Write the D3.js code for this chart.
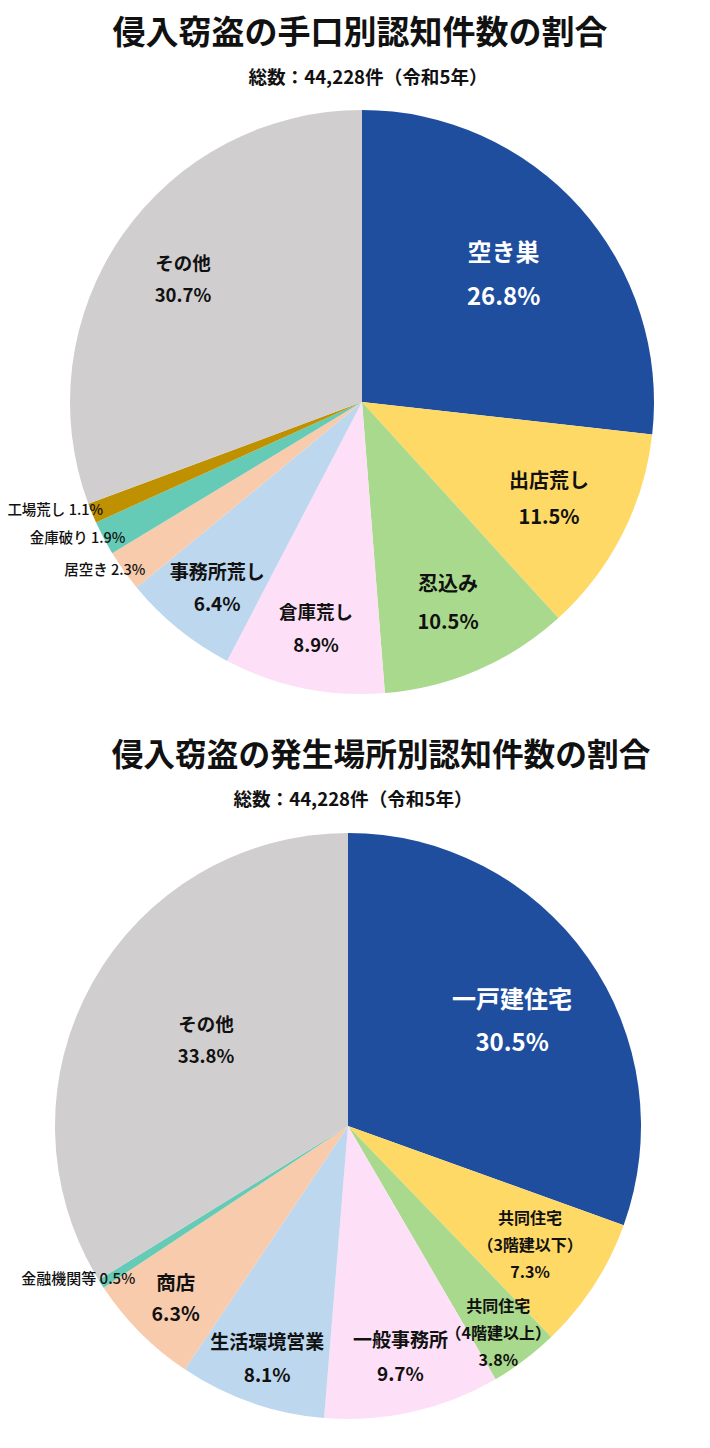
<!DOCTYPE html>
<html>
<head>
<meta charset="utf-8">
<script src="https://cdn.jsdelivr.net/npm/d3@7"></script>
<style>
  body { margin: 0; background: #fff; }
  text { font-family: "Noto Sans CJK JP", "Noto Sans", sans-serif; }
</style>
</head>
<body>
<svg width="710" height="1448"></svg>
<script>
// Chart 1: by method
const methodNames = ["空き巣", "出店荒し", "忍込み", "倉庫荒し", "事務所荒し", "居空き", "金庫破り", "工場荒し", "その他"];
const methodValues = [26.8, 11.5, 10.5, 8.9, 6.4, 2.3, 1.9, 1.1, 30.7];

// Chart 2: by place
const placeNames = [["一戸建住宅"], ["共同住宅", "（3階建以下）"], ["共同住宅", "（4階建以上）"], ["一般事務所"], ["生活環境営業"], ["商店"], ["金融機関等"], ["その他"]];
const placeValues = [30.5, 7.3, 3.8, 9.7, 8.1, 6.3, 0.5, 33.8];

const titles = ["侵入窃盗の手口別認知件数の割合", "侵入窃盗の発生場所別認知件数の割合"];
const subtitle = "総数：44,228件（令和5年）";

const svg = d3.select("svg");

const colors1 = ["#1f4e9f", "#ffd966", "#a9d98c", "#fde0f7", "#bdd7ee", "#f8cbad", "#66cbb6", "#bf9000", "#d0cece"];
const colors2 = ["#1f4e9f", "#ffd966", "#a9d98c", "#fde0f7", "#bdd7ee", "#f8cbad", "#66cbb6", "#d0cece"];

// label layout: radius for centroid, nudge, font size, line gap, side labels anchored at end
const layout1 = [
  {r: 190, dy: -3, fs: 24, gap: 44, fill: "#fff"},
  {r: 210, fs: 20, gap: 36},
  {r: 217, fs: 20, gap: 38},
  {r: 230, fs: 18.5, gap: 33},
  {r: 238, dx: 5, fs: 19, gap: 32},
  {r: 274, dx: 7, dy: 8, fs: 14.5, side: true},
  {r: 273, dx: 5, dy: 7, fs: 14.5, side: true},
  {r: 280, fs: 14.5, side: true},
  {r: 218, fs: 18.5, gap: 32}
];
const layout2 = [
  {r: 192, dx: 7, dy: 3, fs: 24, gap: 43, fill: "#fff"},
  {r: 217, fs: 16, gap: 27},
  {r: 256, dx: -4, dy: 2, fs: 16, gap: 27},
  {r: 237, dy: -2, fs: 19, gap: 34},
  {r: 245, fs: 19, gap: 33},
  {r: 243, fs: 19.5, gap: 31},
  {r: 262, dx: 8, dy: 10, fs: 15, side: true},
  {r: 166, dx: 3, dy: -6, fs: 18.5, gap: 32}
];

function drawPie(cx, cy, R, names, values, colors, layout, titleX, subX, titleY, titleSize, title) {
  svg.append("text")
    .attr("x", titleX).attr("y", titleY)
    .attr("text-anchor", "middle").attr("dominant-baseline", "central")
    .style("font-size", titleSize + "px").style("font-weight", "bold").attr("fill", "#111")
    .text(title);
  svg.append("text")
    .attr("x", subX).attr("y", titleY + 45)
    .attr("text-anchor", "middle").attr("dominant-baseline", "central")
    .style("font-size", "18.6px").style("font-weight", "bold").attr("fill", "#111")
    .text(subtitle);

  const pie = d3.pie().sort(null).value(d => d);
  const arcs = pie(values);
  const arc = d3.arc().innerRadius(0).outerRadius(R);
  const g = svg.append("g").attr("transform", `translate(${cx},${cy})`);

  g.selectAll("path")
    .data(arcs)
    .join("path")
      .attr("d", arc)
      .attr("fill", (d, i) => colors[i]);

  arcs.forEach((d, i) => {
    const L = layout[i];
    const a = (d.startAngle + d.endAngle) / 2;
    const x = L.r * Math.sin(a) + (L.dx || 0), y = -L.r * Math.cos(a) + (L.dy || 0);
    const nm = Array.isArray(names[i]) ? names[i] : [names[i]];
    const pct = values[i].toFixed(1) + "%";
    if (L.side) {
      g.append("text")
        .attr("x", x).attr("y", y)
        .attr("text-anchor", "end").attr("dominant-baseline", "central")
        .style("font-size", L.fs + "px").style("font-weight", 500).attr("fill", "#111")
        .text(nm.join("") + " " + pct);
      return;
    }
    const lines = nm.concat([pct]);
    const y0 = y - (lines.length - 1) * L.gap / 2;
    lines.forEach((t, j) => {
      g.append("text")
        .attr("x", x).attr("y", y0 + j * L.gap)
        .attr("text-anchor", "middle").attr("dominant-baseline", "central")
        .style("font-size", L.fs + "px").style("font-weight", "bold")
        .attr("fill", L.fill || "#111")
        .text(t);
    });
  });
}

drawPie(362, 402, 292, methodNames, methodValues, colors1, layout1, 360, 368, 30, 33, titles[0]);
drawPie(348, 1126, 293, placeNames, placeValues, colors2, layout2, 381, 353, 752, 31.7, titles[1]);
</script>
</body>
</html>
